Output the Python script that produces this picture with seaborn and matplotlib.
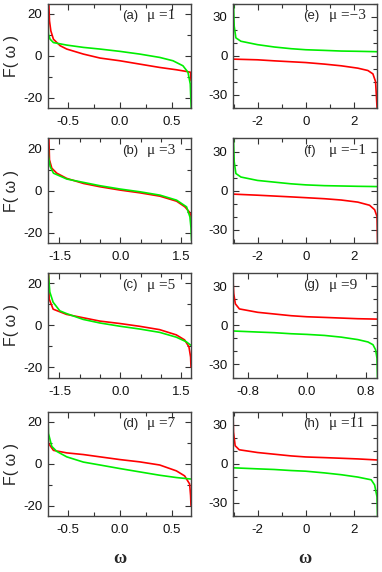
import matplotlib
matplotlib.use("Agg")
import matplotlib.pyplot as plt
from matplotlib.ticker import MultipleLocator, FormatStrFormatter
import seaborn as sns
import numpy as np

# ---- data ----
a_red_x = [-0.680, -0.673, -0.660, -0.635, -0.571, -0.508, -0.349, -0.190, 0.0, 0.190, 0.381, 0.540, 0.635, 0.676, 0.680]
a_red_y = [26.0, 16.7, 11.9, 7.9, 4.8, 3.2, 0.8, -1.1, -2.4, -4.0, -5.6, -6.7, -7.5, -7.9, -12.0]
a_grn_x = [-0.689, -0.686, -0.683, -0.667, -0.635, -0.508, -0.349, -0.190, 0.0, 0.190, 0.381, 0.508, 0.603, 0.651, 0.673, 0.679, 0.683]
a_grn_y = [26.0, 16.7, 10.3, 7.9, 6.3, 5.1, 4.0, 3.2, 2.1, 0.8, -0.8, -2.4, -4.8, -7.9, -13.5, -21.4, -26.0]

b_red_x = [-1.762, -1.746, -1.689, -1.566, -1.320, -0.910, -0.500, 0.0, 0.484, 0.975, 1.385, 1.590, 1.697, 1.738, 1.745]
b_red_y = [26.0, 14.8, 10.8, 8.4, 5.9, 3.5, 1.9, 0.3, -1.0, -2.6, -5.0, -7.7, -10.1, -11.7, -14.0]
b_grn_x = [-1.787, -1.770, -1.730, -1.648, -1.320, -0.910, -0.500, 0.0, 0.484, 0.975, 1.385, 1.631, 1.713, 1.738, 1.754]
b_grn_y = [26.0, 16.4, 11.6, 8.4, 5.6, 4.0, 2.4, 0.8, -0.5, -2.1, -4.5, -7.7, -12.5, -17.4, -23.8]

c_red_x = [-1.770, -1.754, -1.656, -1.328, -0.918, -0.508, 0.0, 0.475, 0.967, 1.377, 1.582, 1.689, 1.730, 1.740]
c_red_y = [26.0, 12.6, 7.7, 5.2, 3.6, 2.0, 0.8, -0.5, -2.1, -4.6, -7.0, -10.3, -15.2, -20.0]
c_grn_x = [-1.779, -1.738, -1.656, -1.492, -1.328, -0.918, -0.508, 0.0, 0.475, 0.967, 1.377, 1.623, 1.730]
c_grn_y = [26.0, 15.9, 11.0, 6.9, 5.6, 2.8, 1.1, -0.5, -1.8, -3.4, -5.7, -7.9, -9.5]

d_red_x = [-0.689, -0.683, -0.635, -0.508, -0.349, -0.190, 0.0, 0.190, 0.381, 0.540, 0.619, 0.667, 0.676, 0.680]
d_red_y = [20.8, 9.8, 6.4, 5.2, 4.4, 3.3, 2.0, 0.9, -0.6, -3.4, -5.8, -9.7, -15.2, -20.0]
d_grn_x = [-0.689, -0.683, -0.651, -0.603, -0.508, -0.349, -0.190, 0.0, 0.190, 0.381, 0.540, 0.676]
d_grn_y = [26.0, 14.5, 8.3, 5.9, 3.3, 0.8, -0.6, -2.3, -3.9, -5.5, -6.6, -7.3]

e_red_x = [-3.01, -2.01, -1.31, -0.61, 0.0, 0.78, 1.48, 2.17, 2.59, 2.80, 2.91, 2.97, 2.98]
e_red_y = [-2.6, -3.1, -3.9, -4.6, -5.2, -6.4, -7.7, -9.5, -11.3, -13.9, -19.8, -39.0, -44.0]
e_grn_x = [-3.01, -3.01, -2.98, -2.91, -2.70, -2.01, -1.31, -0.61, 0.0, 0.78, 1.48, 2.17, 2.97]
e_grn_y = [44.0, 40.7, 22.7, 13.7, 11.1, 8.5, 6.7, 5.4, 4.6, 4.1, 3.6, 3.4, 3.1]

f_red_x = [-3.01, -2.01, -0.61, 0.0, 0.78, 1.48, 2.17, 2.66, 2.87, 2.97, 3.00]
f_red_y = [-2.6, -3.4, -4.7, -5.3, -6.1, -7.1, -8.7, -11.1, -14.5, -19.7, -44.0]
f_grn_x = [-3.01, -3.01, -2.98, -2.91, -2.70, -2.01, -1.31, -0.61, 0.0, 0.78, 2.17, 2.97]
f_grn_y = [44.0, 39.5, 22.4, 13.2, 10.5, 7.9, 6.6, 5.3, 4.5, 3.9, 3.4, 3.2]

g_red_x = [-1.005, -1.005, -0.995, -0.973, -0.918, -0.668, -0.441, -0.214, 0.0, 0.241, 0.468, 0.695, 0.955]
g_red_y = [45.0, 34.7, 24.3, 16.4, 12.5, 9.9, 8.6, 7.3, 6.5, 6.0, 5.5, 5.0, 4.7]
g_grn_x = [-1.005, -0.668, -0.441, -0.214, 0.0, 0.241, 0.468, 0.695, 0.832, 0.900, 0.936, 0.955, 0.964]
g_grn_y = [-4.4, -5.2, -5.7, -6.5, -7.0, -7.8, -9.1, -11.0, -12.8, -14.9, -18.8, -25.3, -44.0]

h_red_x = [-3.04, -3.01, -2.94, -2.77, -2.01, -1.31, -0.61, 0.0, 0.78, 1.48, 2.17, 2.97]
h_red_y = [45.0, 24.3, 13.8, 10.7, 8.6, 7.3, 6.0, 5.2, 4.7, 4.2, 3.7, 2.9]
h_grn_x = [-3.04, -2.01, -1.31, -0.61, 0.0, 0.78, 1.48, 2.17, 2.73, 2.87, 2.97, 3.00]
h_grn_y = [-3.1, -3.9, -4.4, -5.2, -5.7, -7.0, -8.4, -10.2, -12.3, -16.2, -25.3, -44.0]

panel_letters = ["(a)", "(b)", "(c)", "(d)", "(e)", "(f)", "(g)", "(h)"]
panel_mu = ["1", "3", "5", "7", "\u22123", "\u22121", "9", "11"]

xlims = [(-0.69, 0.68), (-1.79, 1.74), (-1.79, 1.74), (-0.69, 0.68),
         (-3.03, 2.97), (-3.03, 2.97), (-1.005, 0.955), (-3.03, 2.97)]
xmajor = [0.5, 1.5, 1.5, 0.5, 2, 2, 0.8, 2]
xminor = [0.25, 0.5, 0.5, 0.25, 1, 1, 0.4, 1]
xfmt = ["%.1f", "%.1f", "%.1f", "%.1f", "%d", "%d", "%.1f", "%d"]

reds = [(a_red_x, a_red_y), (b_red_x, b_red_y), (c_red_x, c_red_y), (d_red_x, d_red_y),
        (e_red_x, e_red_y), (f_red_x, f_red_y), (g_red_x, g_red_y), (h_red_x, h_red_y)]
greens = [(a_grn_x, a_grn_y), (b_grn_x, b_grn_y), (c_grn_x, c_grn_y), (d_grn_x, d_grn_y),
          (e_grn_x, e_grn_y), (f_grn_x, f_grn_y), (g_grn_x, g_grn_y), (h_grn_x, h_grn_y)]

# ---- figure ----
sns.set_style("ticks")
plt.rcParams["font.family"] = ["Liberation Sans", "DejaVu Sans"]
plt.rcParams["axes.unicode_minus"] = False

W, H = 382, 572
fig = plt.figure(figsize=(W / 100, H / 100), dpi=100)

col_left = [47.7, 233.0]
col_width = [143.3, 144.0]
row_top = [3.5, 138.5, 273.0, 411.5]
row_h = 104.5

spine_c = "#444444"
for i in range(8):
    col = 0 if i < 4 else 1
    row = i % 4
    l = col_left[col] / W
    b = 1 - (row_top[row] + row_h) / H
    ax = fig.add_axes([l, b, col_width[col] / W, row_h / H])

    rx, ry = reds[i]
    gx, gy = greens[i]
    sns.lineplot(x=rx, y=ry, ax=ax, color="#ff0000", lw=1.2, sort=False, estimator=None)
    sns.lineplot(x=gx, y=gy, ax=ax, color="#00ee00", lw=1.2, sort=False, estimator=None)

    ax.set_xlim(*xlims[i])
    if col == 0:
        ax.set_ylim(-25, 25)
        ax.yaxis.set_major_locator(MultipleLocator(20))
        ax.yaxis.set_minor_locator(MultipleLocator(10))
    else:
        ax.set_ylim(-40, 40)
        ax.yaxis.set_major_locator(MultipleLocator(30))
        ax.yaxis.set_minor_locator(MultipleLocator(10))
    ax.xaxis.set_major_locator(MultipleLocator(xmajor[i]))
    ax.xaxis.set_minor_locator(MultipleLocator(xminor[i]))
    ax.xaxis.set_major_formatter(FormatStrFormatter(xfmt[i]))

    ax.tick_params(which="both", direction="in", top=True, right=True,
                   color="#333333", width=0.8)
    ax.tick_params(which="major", length=4, labelsize=9.5, labelcolor="#111111")
    ax.tick_params(which="minor", length=3)
    ax.tick_params(axis="x", which="major", pad=6)
    ax.tick_params(axis="y", which="major", pad=4)
    for s in ax.spines.values():
        s.set_color(spine_c)
        s.set_linewidth(1.0)

    tx = 0.52 if col == 0 else 0.49
    ax.text(tx, 0.885, panel_letters[i], transform=ax.transAxes, fontsize=9.5,
            ha="left", va="center", family=["Liberation Sans", "DejaVu Sans"])
    ax.text(tx + 0.175, 0.885, "\u03bc =" + panel_mu[i], transform=ax.transAxes,
            fontsize=11, ha="left", va="center", family=["Liberation Serif", "DejaVu Serif"])

    ax.set_xlabel("")
    ax.set_ylabel("")
    if col == 0:
        ax.set_ylabel("F( \u03c9 )", fontsize=11.5)
        ax.yaxis.set_label_coords(-0.20, 0.5)
    if row == 3:
        ax.set_xlabel("\u03c9", fontsize=13, fontweight="bold",
                      family=["Liberation Serif", "DejaVu Serif"])
        ax.xaxis.set_label_coords(0.5, -0.33)

fig.savefig("out.png", dpi=100)
